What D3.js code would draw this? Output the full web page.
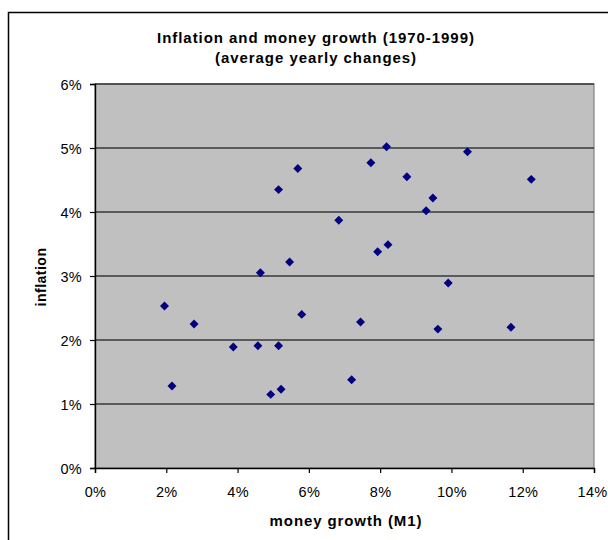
<!DOCTYPE html>
<html>
<head>
<meta charset="utf-8">
<script src="https://cdn.jsdelivr.net/npm/d3@7"></script>
<style>
  html, body { margin: 0; padding: 0; background: #fff; }
  svg { display: block; font-family: Arial, "Liberation Sans", sans-serif; }
</style>
</head>
<body>
<svg id="chart" width="608" height="540"></svg>
<script>
// Average yearly money growth (M1) per country, 1970-1999
const moneyGrowth = [
  5.69, 5.15, 6.84, 5.46, 4.64,
  8.18, 7.74, 10.45, 8.75, 12.24, 9.48, 9.29, 8.22, 7.93,
  1.95, 2.78, 5.80, 3.88, 4.57, 5.15, 2.16, 4.93, 5.22,
  9.91, 7.45, 9.62, 11.67, 7.20
];
// Average yearly inflation for the same countries
const inflation = [
  4.68, 4.35, 3.87, 3.22, 3.05,
  5.02, 4.77, 4.94, 4.55, 4.51, 4.22, 4.02, 3.49, 3.38,
  2.53, 2.25, 2.40, 1.89, 1.91, 1.91, 1.28, 1.15, 1.23,
  2.89, 2.28, 2.17, 2.20, 1.38
];
const xTicks = [0, 2, 4, 6, 8, 10, 12, 14];
const yTicks = [0, 1, 2, 3, 4, 5, 6];

const titleLines = ["Inflation and money growth (1970-1999)", "(average yearly changes)"];
const xTitle = "money growth (M1)";
const yTitle = "inflation";

const width = 608;
const svg = d3.select("#chart");
const plot = { left: 95, right: 594, top: 84, bottom: 468 };

const x = d3.scaleLinear().domain([0, 14]).range([plot.left, plot.right]);
const y = d3.scaleLinear().domain([0, 6]).range([plot.bottom, plot.top]);

// Outer chart frame (runs off the right and bottom edges)
svg.append("rect")
  .attr("x", 8.5).attr("y", 12.5)
  .attr("width", 620).attr("height", 560)
  .attr("fill", "#fff").attr("stroke", "#000").attr("stroke-width", 1.5);

// Title
svg.append("g").selectAll("text").data(titleLines).join("text")
  .attr("x", 316).attr("y", (d, i) => 43 + i * 19.7)
  .attr("text-anchor", "middle")
  .attr("font-size", 15).attr("font-weight", "bold")
  .attr("letter-spacing", 0.95)
  .text(d => d);

// Plot area background
svg.append("rect")
  .attr("x", plot.left).attr("y", plot.top)
  .attr("width", plot.right - plot.left).attr("height", plot.bottom - plot.top)
  .attr("fill", "#c0c0c0").attr("stroke", "#808080").attr("stroke-width", 1.2);

// Horizontal gridlines
svg.append("g").selectAll("line").data(yTicks.filter(t => t > 0)).join("line")
  .attr("x1", plot.left).attr("x2", plot.right)
  .attr("y1", d => y(d)).attr("y2", d => y(d))
  .attr("stroke", "#383838").attr("stroke-width", 1.6);

// Axes
const fmt = d => d + "%";
const xAxis = svg.append("g")
  .attr("transform", `translate(0,${plot.bottom})`)
  .call(d3.axisBottom(x).tickValues(xTicks).tickFormat(fmt).tickSize(5).tickPadding(14));
const yAxis = svg.append("g")
  .attr("transform", `translate(${plot.left},0)`)
  .call(d3.axisLeft(y).tickValues(yTicks).tickFormat(fmt).tickSize(5).tickPadding(8));

[xAxis, yAxis].forEach(g => {
  g.select(".domain").attr("stroke", "#000").attr("stroke-width", 1.4);
  g.selectAll(".tick line").attr("stroke", "#000").attr("stroke-width", 1.2);
  g.selectAll(".tick text")
    .attr("font-family", "Arial, 'Liberation Sans', sans-serif")
    .attr("font-size", 14.5).attr("letter-spacing", 0.3).attr("fill", "#000");
});
yAxis.selectAll(".tick text").attr("dy", "0.36em");

// Keep the outermost x tick label inside the page
xAxis.selectAll(".tick text").each(function (d) {
  const bb = this.getBBox();
  const right = x(d) + bb.x + bb.width;
  if (right > width - 1) d3.select(this).attr("dx", (width - 1 - right) + "px");
});

// Axis titles
svg.append("text")
  .attr("x", 346).attr("y", 526)
  .attr("text-anchor", "middle")
  .attr("font-size", 15).attr("font-weight", "bold")
  .attr("letter-spacing", 0.9)
  .text(xTitle);
svg.append("text")
  .attr("transform", "translate(46,277) rotate(-90)")
  .attr("text-anchor", "middle")
  .attr("font-size", 14).attr("font-weight", "bold")
  .attr("letter-spacing", 0.5)
  .text(yTitle);

// Data points: navy diamonds
const points = moneyGrowth.map((m, i) => ({ m, inf: inflation[i] }));
const diamond = d3.symbol(d3.symbolSquare, 40);
svg.append("g").selectAll("path").data(points).join("path")
  .attr("d", diamond)
  .attr("transform", d => `translate(${x(d.m)},${y(d.inf)}) rotate(45)`)
  .attr("fill", "#000080");
</script>
</body>
</html>
